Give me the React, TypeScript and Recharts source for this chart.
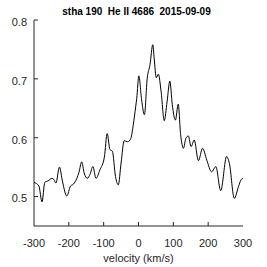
import React from 'react';
import { LineChart, Line, XAxis, YAxis } from 'recharts';

const velocity = [-300,-286,-277,-269,-259,-248,-243,-237,-227,-218,-206,-195,-187,-177,-171,-163,-156,-147,-139,-131,-122,-111,-98,-90,-82,-75,-66,-58,-50,-41,-31,-22,-15,-8,-5,1,9,17,25,33,41,45,51,57,65,74,82,90,97,106,114,121,129,136,143,151,160,172,184,196,210,222,236,253,261,275,287,294,300];
const flux = [0.524,0.518,0.491,0.524,0.527,0.531,0.529,0.523,0.550,0.525,0.501,0.518,0.521,0.531,0.541,0.559,0.540,0.531,0.538,0.551,0.531,0.545,0.567,0.607,0.580,0.577,0.534,0.520,0.557,0.595,0.593,0.599,0.622,0.653,0.667,0.705,0.664,0.639,0.701,0.724,0.758,0.735,0.702,0.708,0.678,0.629,0.661,0.696,0.656,0.630,0.657,0.605,0.582,0.599,0.603,0.585,0.596,0.561,0.582,0.562,0.542,0.551,0.510,0.568,0.556,0.497,0.517,0.528,0.531];
const xTicks = [-300,-200,-100,0,100,200,300];
const yTicks = [0.5,0.6,0.7,0.8];
const title = 'stha 190  He II 4686  2015-09-09';
const xLabel = 'velocity (km/s)';

const data = velocity.map((v, i) => ({ v, f: flux[i] }));

const INK = '#262626';
const FONT = '"Liberation Sans", Arial, sans-serif';
const TL = 4;

const BottomTick = (props: any) => {
  const { x, y, payload } = props;
  const m = 13;
  const isEdge = payload.value === -300 || payload.value === 300;
  return (
    <g>
      {!isEdge && <line x1={x} x2={x} y1={y - m} y2={y - m - TL} stroke={INK} strokeWidth={1} />}
      <text x={x} y={y} dy="0.71em" textAnchor="middle" fill={INK} fontSize={11} fontFamily={FONT}>{payload.value}</text>
    </g>
  );
};

const LeftTick = (props: any) => {
  const { x, y, payload, index } = props;
  const m = 7;
  return (
    <g>
      <line x1={x + m} x2={x + m + TL} y1={y} y2={y} stroke={INK} strokeWidth={1} />
      <text x={x} y={y + 2} dy="0.355em" textAnchor="end" fill={INK} fontSize={11} fontFamily={FONT}>{Number(payload.value).toFixed(1)}</text>
    </g>
  );
};

const TopTick = (props: any) => {
  const { x, y, payload } = props;
  if (payload.value === -300 || payload.value === 300) return <g />;
  return <line x1={x} x2={x} y1={y} y2={y + TL} stroke={INK} strokeWidth={1} />;
};

const RightTick = (props: any) => {
  const { x, y } = props;
  return <line x1={x} x2={x - TL} y1={y} y2={y} stroke={INK} strokeWidth={1} />;
};

export default function App() {
  return (
    <div style={{ position: 'absolute', left: 0, top: 0, width: 267, height: 267, background: '#fff' }}>
      <div style={{ position: 'absolute', left: 36, top: 6, width: 201, textAlign: 'center', fontFamily: FONT, fontWeight: 'bold', fontSize: 10, lineHeight: '12px', whiteSpace: 'pre', color: '#000' }}>{title}</div>
      <LineChart width={267} height={267} data={data} margin={{ top: 20, right: 24, left: 0, bottom: 0 }}>
        <XAxis xAxisId="b" dataKey="v" type="number" domain={[-300, 300]} ticks={xTicks} interval={0}
          height={41} tickSize={0} tickMargin={13} tick={<BottomTick />} axisLine={{ stroke: INK }}
          label={{ value: xLabel, position: 'insideBottom', offset: 5, fill: INK, fontSize: 11, fontFamily: FONT }} />
        <XAxis xAxisId="t" orientation="top" dataKey="v" type="number" domain={[-300, 300]} ticks={xTicks} interval={0}
          height={0} tickSize={0} tickMargin={0} tick={<TopTick />} axisLine={{ stroke: INK }} />
        <YAxis yAxisId="l" type="number" domain={[0.45, 0.8]} ticks={yTicks} interval={0} width={34}
          tickSize={0} tickMargin={7} tick={<LeftTick />} axisLine={{ stroke: INK }} />
        <YAxis yAxisId="r" orientation="right" type="number" domain={[0.45, 0.8]} ticks={yTicks} interval={0} width={0}
          tickSize={0} tickMargin={0} tick={<RightTick />} axisLine={{ stroke: INK }} />
        <Line xAxisId="b" yAxisId="l" dataKey="f" type="monotone" stroke="#000" strokeWidth={1} dot={false} isAnimationActive={false} />
      </LineChart>
    </div>
  );
}
